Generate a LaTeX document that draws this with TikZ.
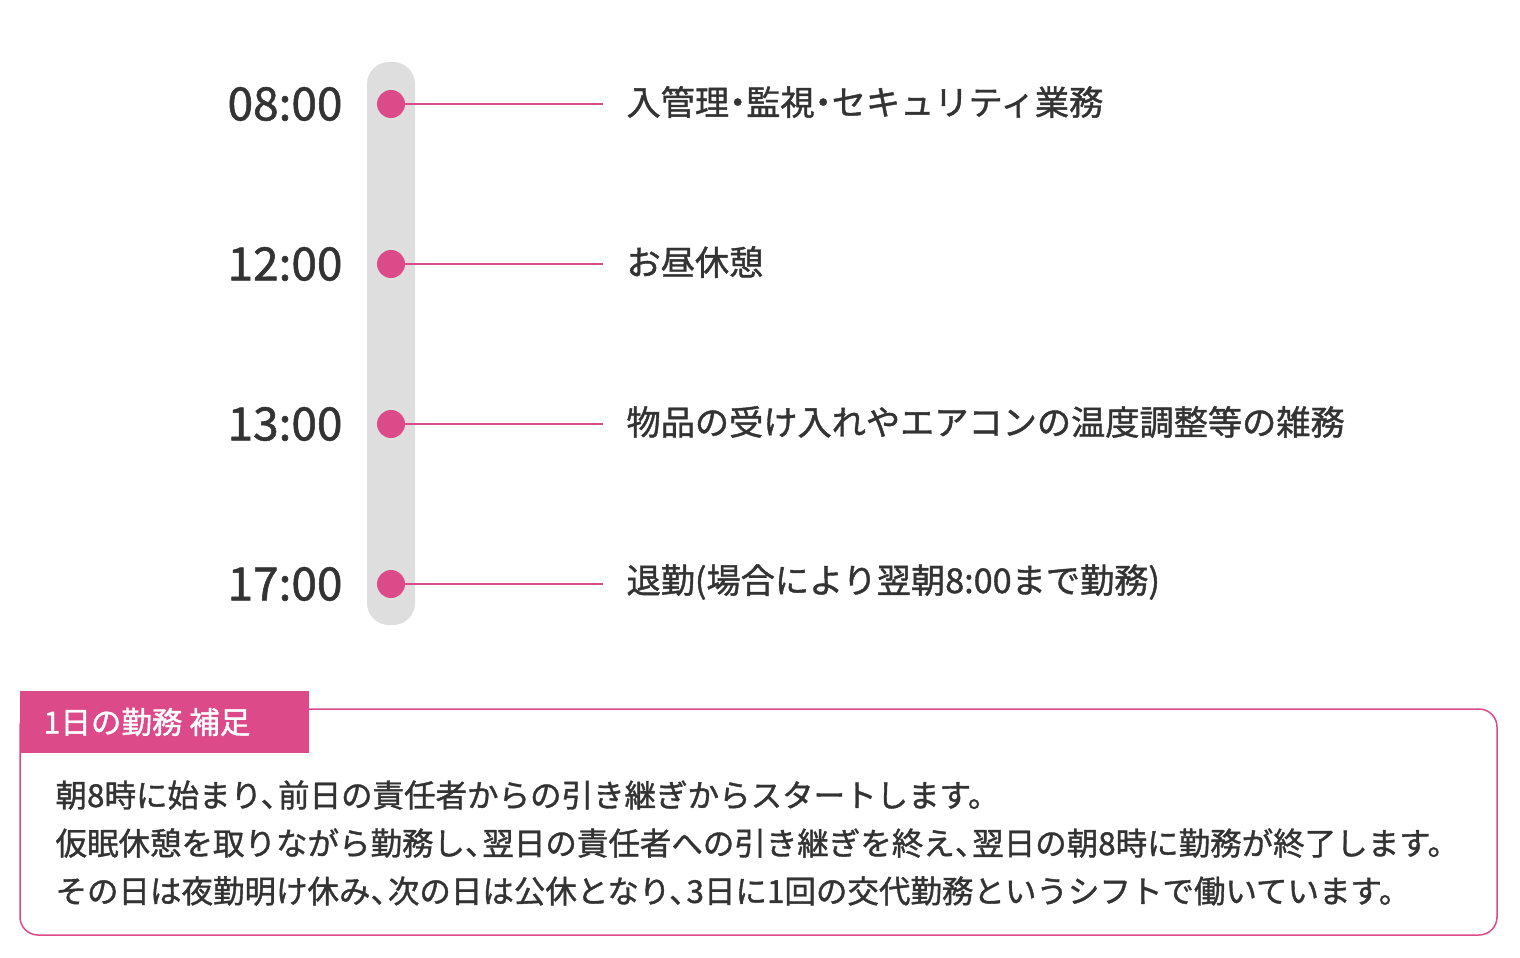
\documentclass[tikz,border=0pt]{standalone}
\usepackage{fontspec}
\setmainfont{Noto Sans CJK JP}[FakeBold=1.2]
\definecolor{pk}{HTML}{DC4A8A}
\definecolor{bar}{HTML}{DEDEDE}
\definecolor{tx}{HTML}{333333}
\newcommand{\tc}{、\hspace{-0.45em}}
\begin{document}
\begin{tikzpicture}[x=1pt,y=-1pt,
  dot/.style={circle,fill=pk,minimum size=28pt,inner sep=0pt},
  tm/.style={anchor=east,font=\fontsize{46}{50}\selectfont,text=tx},
  lb/.style={anchor=west,font=\fontsize{34.2}{38}\selectfont,text=tx},
  body/.style={anchor=west,font=\fontsize{31.5}{36}\selectfont,text=tx}]
\useasboundingbox (0,0) rectangle (1520,958);
\fill[bar,rounded corners=22pt] (367,62) rectangle (415,625);
\foreach \y/\t/\l [count=\i] in {104/08:00/入管理\hspace{-0.25em}・\hspace{-0.25em}監視\hspace{-0.25em}・\hspace{-0.25em}セキュリティ業務,264/12:00/お昼休憩,424/13:00/物品の受け入れやエアコンの温度調整等の雑務,584/17:00/退勤(場合により翌朝8:00まで勤務)}{
  \node[dot] (d\i) at (391,\y) {};
  \coordinate (e\i) at (603,\y);
  \draw[pk,line width=1.3pt] (d\i) -- (e\i);
  \node[tm] (t\i) at (346,\y) {\t};
  \node[lb] (l\i) at (623,\y-2) {\l};
}
\draw[pk,line width=1.5pt,rounded corners=18pt] (20,709) rectangle (1497,935);
\fill[pk] (20,691) rectangle (309,753);
\node[anchor=west,text=white,font=\fontsize{30.5}{34}\selectfont] (tab) at (40,722) {1日の勤務 補足};
\node[body] (b1) at (52,795) {朝8時に始まり\tc 前日の責任者からの引き継ぎからスタートします。};
\node[body] (b2) at (52,843) {仮眠休憩を取りながら勤務し\tc 翌日の責任者への引き継ぎを終え\tc 翌日の朝8時に勤務が終了します。};
\node[body] (b3) at (52,891) {その日は夜勤明け休み\tc 次の日は公休となり\tc 3日に1回の交代勤務というシフトで働いています。};
\end{tikzpicture}
\end{document}
